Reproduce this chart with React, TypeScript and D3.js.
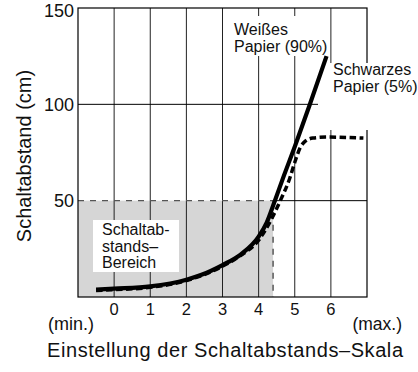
import React from "react";
import * as d3 from "d3";

const xTicks = [0, 1, 2, 3, 4, 5, 6];
const yTicks = [50, 100, 150];

// Weißes Papier (90%)
const whiteX = [-0.5, 0, 1, 2, 2.4, 3, 3.5, 4, 4.22, 4.45, 4.7, 5, 5.4, 5.88];
const whiteY = [3.8, 4.3, 5.5, 9, 11.4, 16.6, 22, 31.3, 38.5, 50, 63, 78, 99, 125];

// Schwarzes Papier (5%)
const blackX = [-0.5, 0, 1, 2, 3, 3.5, 4, 4.3, 4.6, 4.85, 5.02, 5.15, 5.3, 5.5, 5.9, 6.9];
const blackY = [3.4, 3.8, 5, 8.5, 16, 21.5, 29.5, 38.5, 50, 61, 71, 77.5, 81, 82.5, 83, 82.5];

const rangeMax = 4.4; // Schaltabstands-Bereich up to scale 4.4, 50 cm
const rangeY = 50;

const W = 418, H = 372;
const L = 78, T = 8, R = 367, B = 297;
const FONT = "'Liberation Sans', Arial, Helvetica, sans-serif";

export default function App() {
  const x = d3.scaleLinear().domain([-1, 7]).range([L, R]);
  const y = d3.scaleLinear().domain([0, 150]).range([B, T]);
  const line = d3
    .line<[number, number]>()
    .x((d) => x(d[0]))
    .y((d) => y(d[1]))
    .curve(d3.curveMonotoneX);
  const white: [number, number][] = whiteX.map((v, i) => [v, whiteY[i]]);
  const black: [number, number][] = blackX.map((v, i) => [v, blackY[i]]);

  return (
    <svg
      width={W}
      height={H}
      style={{ position: "absolute", left: 0, top: 0, background: "#fff" }}
      fontFamily={FONT}
    >
      {/* shaded range */}
      <rect x={L} y={y(rangeY)} width={x(rangeMax) - L} height={B - y(rangeY)} fill="#d6d6d6" />
      {/* vertical grid */}
      {xTicks.map((t) => (
        <line key={t} x1={x(t)} x2={x(t)} y1={T} y2={B} stroke="#222" strokeWidth={1} />
      ))}
      {/* horizontal grid at 100 */}
      <line x1={L} x2={R} y1={y(100)} y2={y(100)} stroke="#000" strokeWidth={1} />
      {/* 50 line: dashed within range, solid after */}
      <line x1={L} x2={x(rangeMax)} y1={y(50)} y2={y(50)} stroke="#555" strokeWidth={1.2} strokeDasharray="6,6" />
      <line x1={x(rangeMax)} x2={R} y1={y(50)} y2={y(50)} stroke="#000" strokeWidth={1} />
      <line x1={x(rangeMax)} x2={x(rangeMax)} y1={y(50)} y2={B} stroke="#333" strokeWidth={1.2} strokeDasharray="6,6" />
      {/* frame */}
      <rect x={L} y={T} width={R - L} height={B - T} fill="none" stroke="#000" strokeWidth={1.2} />

      {/* label backgrounds */}
      <rect x={231} y={16} width={99} height={40} fill="#fff" />
      <rect x={318} y={63} width={100} height={67} fill="#fff" />
      <rect x={93} y={220} width={86} height={52} fill="#fff" />

      {/* curves */}
      <path d={line(black) || ""} fill="none" stroke="#000" strokeWidth={3.5} strokeDasharray="6.5,3.5" />
      <path d={line(white) || ""} fill="none" stroke="#000" strokeWidth={4.2} />

      {/* labels */}
      <text x={234} y={35} fontSize={16} fill="#111">Weißes</text>
      <text x={234} y={51.5} fontSize={16} fill="#111">Papier (90%)</text>
      <text x={333} y={75} fontSize={16} fill="#111">Schwarzes</text>
      <text x={333} y={91.5} fontSize={16} fill="#111">Papier (5%)</text>
      <text x={102} y={235} fontSize={16} fill="#111">Schaltab-</text>
      <text x={102} y={251.5} fontSize={16} fill="#111">stands–</text>
      <text x={102} y={268} fontSize={16} fill="#111">Bereich</text>

      {/* y ticks */}
      {yTicks.map((t) => (
        <text key={t} x={74} y={Math.max(y(t) + 6.5, 16.5)} textAnchor="end" fontSize={18} fill="#111">
          {t}
        </text>
      ))}
      {/* x ticks */}
      {xTicks.map((t) => (
        <text key={t} x={x(t)} y={315} textAnchor="middle" fontSize={16.5} fill="#111">
          {t}
        </text>
      ))}
      <text x={48} y={330} fontSize={18} fill="#111">(min.)</text>
      <text x={402} y={330} fontSize={17.5} textAnchor="end" fill="#111">(max.)</text>
      <text
        x={47}
        y={357}
        fontSize={20}
        textLength={356}
        lengthAdjust="spacing"
        fill="#111"
      >
        Einstellung der Schaltabstands–Skala
      </text>
      <text
        transform={`translate(31,156) rotate(-90)`}
        textAnchor="middle"
        fontSize={20}
        fill="#111"
      >
        Schaltabstand (cm)
      </text>
    </svg>
  );
}
